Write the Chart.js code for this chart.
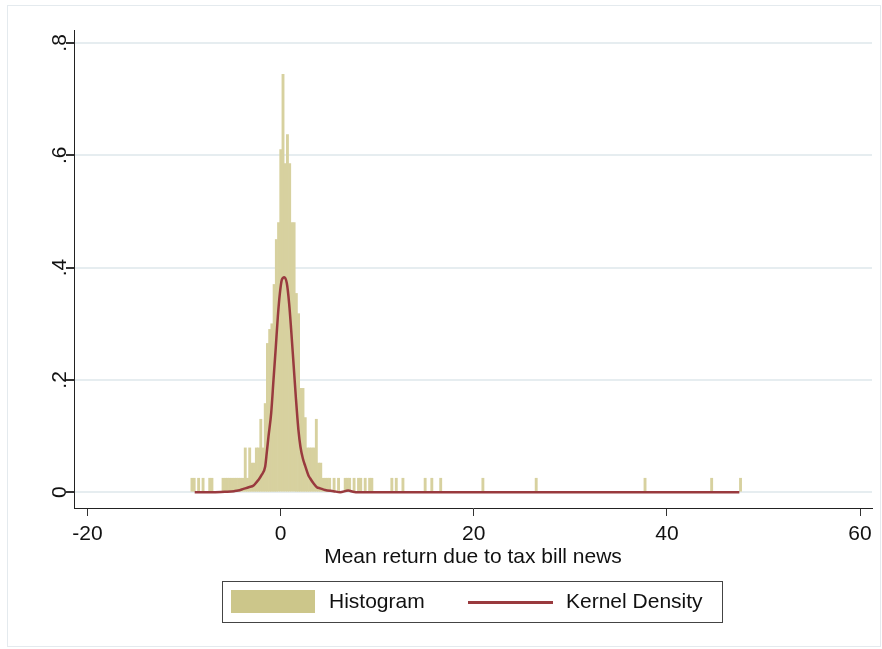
<!DOCTYPE html>
<html>
<head>
<meta charset="utf-8">
<script src="https://cdn.jsdelivr.net/npm/chart.js@4.4.1/dist/chart.umd.min.js"></script>
<style>
  body { margin: 0; background: #fff; font-family: "Liberation Sans", Arial, sans-serif; }
  #wrap { position: relative; width: 882px; height: 649px; }
  #frame { position: absolute; left: 7px; top: 5px; width: 872px; height: 640px; border: 1px solid #e4eaee; }
  #c { position: absolute; left: 0; top: 0; }
  .legend { position: absolute; left: 222px; top: 581px; width: 499px; height: 40px; border: 1px solid #444; }
  .sw { position: absolute; left: 8px; top: 8px; width: 84px; height: 23px; background: #ccc68a; }
  .ln { position: absolute; left: 245px; top: 19px; width: 85px; height: 0; border-top: 3px solid #993a3e; }
  .lt { position: absolute; top: 7px; font-size: 21px; color: #111; }
</style>
</head>
<body>
<div id="wrap">
  <div id="frame"></div>
  <canvas id="c" width="882" height="649"></canvas>
  <div class="legend">
    <div class="sw"></div>
    <span class="lt" style="left:106px">Histogram</span>
    <div class="ln"></div>
    <span class="lt" style="left:343px">Kernel Density</span>
  </div>
</div>
<script>
// histogram bins (width 0.23, first bin starts at -9.3): centres and densities
var binWidth = 0.23;
var histX = [-9.185, -8.955, -8.495, -8.035, -7.345, -7.115,
  -5.965, -5.735, -5.505, -5.275, -5.045, -4.815, -4.585, -4.355, -4.125, -3.895,
  -3.665, -3.435, -3.205, -2.975, -2.745, -2.515, -2.285, -2.055, -1.825, -1.595,
  -1.365, -1.135, -0.905, -0.675, -0.445, -0.215, 0.015, 0.245, 0.475, 0.705,
  0.935, 1.165, 1.395, 1.625, 1.855, 2.085, 2.315, 2.545, 2.775, 3.005,
  3.235, 3.465, 3.695, 3.925, 4.155, 4.385, 4.615, 4.845, 5.075,
  5.535, 5.995, 6.685, 6.915, 7.145, 7.605, 8.065, 8.295, 8.755, 9.215, 9.445,
  11.515, 11.975, 12.665, 14.965, 15.655, 16.575, 20.945, 26.465, 37.735, 44.635, 47.625];
var histY = [0.025, 0.025, 0.025, 0.025, 0.025, 0.025,
  0.025, 0.025, 0.025, 0.025, 0.025, 0.025, 0.025, 0.025, 0.025, 0.025,
  0.079, 0.025, 0.079, 0.052, 0.052, 0.079, 0.079, 0.13, 0.079, 0.158,
  0.265, 0.29, 0.30, 0.37, 0.45, 0.48, 0.61, 0.744, 0.585, 0.637,
  0.585, 0.48, 0.48, 0.354, 0.318, 0.185, 0.185, 0.133, 0.079, 0.079,
  0.079, 0.079, 0.13, 0.052, 0.052, 0.025, 0.025, 0.025, 0.025,
  0.025, 0.025, 0.025, 0.025, 0.025, 0.025, 0.025, 0.025, 0.025, 0.025, 0.025,
  0.025, 0.025, 0.025, 0.025, 0.025, 0.025, 0.025, 0.025, 0.025, 0.025, 0.025];

// kernel density curve
var kdeX = [-8.9, -7.0, -5.6, -4.8, -4.4, -3.85, -3.3, -2.8, -2.3, -2.0, -1.6, -1.43, -1.26,
  -0.98, -0.74, -0.5, -0.29, -0.08, 0.12, 0.38, 0.64, 0.88, 1.09, 1.33, 1.57, 1.84, 2.05,
  2.3, 2.54, 2.88, 3.05, 3.4, 3.75, 4.09, 4.6, 5.47, 6.16, 7.0, 7.5, 8.0, 47.5];
var kdeY = [0, 0, 0.001, 0.002, 0.003, 0.006, 0.009, 0.012, 0.022, 0.03, 0.046, 0.072, 0.099,
  0.141, 0.2, 0.259, 0.313, 0.354, 0.378, 0.383, 0.372, 0.336, 0.289, 0.23, 0.17, 0.111, 0.081,
  0.06, 0.047, 0.03, 0.025, 0.016, 0.009, 0.007, 0.004, 0.002, 0, 0.003, 0.001, 0, 0];

var xTicks = [-20, 0, 20, 40, 60];
var yTicks = [0, 0.2, 0.4, 0.6, 0.8];
var yTickLabels = ['0', '.2', '.4', '.6', '.8'];

var font = { family: '"Liberation Sans", Arial, sans-serif', size: 21 };

new Chart(document.getElementById('c'), {
  data: {
    datasets: [
      {
        type: 'line',
        label: 'Kernel Density',
        data: kdeX.map(function (x, i) { return { x: x, y: kdeY[i] }; }),
        borderColor: '#993a3e',
        borderWidth: 2.5,
        pointRadius: 0,
        cubicInterpolationMode: 'monotone',
        fill: false,
        order: 0
      },
      {
        type: 'bar',
        label: 'Histogram',
        data: histX.map(function (x, i) { return { x: x, y: histY[i] }; }),
        backgroundColor: '#d7d19f',
        borderWidth: 0,
        barPercentage: 1,
        categoryPercentage: 1,
        grouped: false,
        order: 1
      }
    ]
  },
  options: {
    responsive: false,
    animation: false,
    layout: { padding: { top: 30, left: 0, right: 10, bottom: 79 } },
    plugins: { legend: { display: false }, tooltip: { enabled: false } },
    scales: {
      x: {
        type: 'linear',
        offset: false,
        min: -21.4,
        max: 61.24,
        afterBuildTicks: function (s) { s.ticks = xTicks.map(function (v) { return { value: v }; }); },
        afterFit: function (s) { s.height = 62; },
        ticks: { font: font, color: '#111', padding: 6, maxRotation: 0, callback: function (v) { return String(v); } },
        grid: { offset: false, drawOnChartArea: false, drawTicks: true, tickLength: 8, tickColor: '#333' },
        border: { display: true, color: '#222', width: 1 },
        title: { display: true, text: 'Mean return due to tax bill news', font: font, color: '#111', padding: 0 }
      },
      y: {
        type: 'linear',
        min: -0.028,
        max: 0.823,
        afterBuildTicks: function (s) { s.ticks = yTicks.map(function (v) { return { value: v }; }); },
        afterFit: function (s) { s.width = 74; },
        ticks: {
          font: font, color: '#111', padding: -3, minRotation: 90, maxRotation: 90, crossAlign: 'center',
          callback: function (v) { var i = yTicks.indexOf(v); return i >= 0 ? yTickLabels[i] : ''; }
        },
        grid: { color: '#e6edf0', lineWidth: 2, drawTicks: true, tickLength: 8, tickColor: '#333' },
        border: { display: true, color: '#222', width: 1 }
      }
    }
  }
});
</script>
</body>
</html>
